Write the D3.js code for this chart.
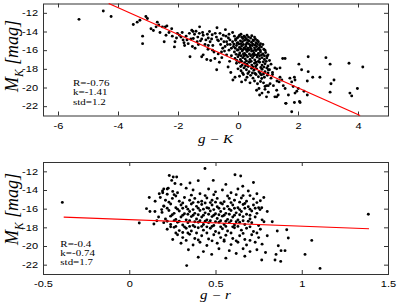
<!DOCTYPE html>
<html>
<head>
<meta charset="utf-8">
<script src="https://cdn.jsdelivr.net/npm/d3@7"></script>
<style>
  html, body { margin: 0; padding: 0; background: #fff; }
  svg { display: block; }
  .tick text { font-family: "Liberation Sans", Arial, sans-serif; font-size: 11px; fill: #000; }
  .tick line { stroke: #333; }
  .stat { font-family: "Liberation Serif", "Times New Roman", serif; font-size: 11px; fill: #000; }
  .lab { font-family: "Liberation Serif", "Times New Roman", serif; font-style: italic; fill: #000; }
</style>
</head>
<body>
<div id="chart"></div>
<script>
// g-K vs M_K
let gKPoints = [
  [-5.30,-12.7],[-4.49,-11.8],[-4.23,-12.4],[-3.49,-13.25],[-3.36,-13.0],[-3.27,-12.8],[-3.07,-12.4],[-3.02,-12.6],
  [-3.18,-14.5],[-3.18,-15.3],[-2.90,-13.7],[-2.82,-13.9],[-2.73,-13.5],[-2.69,-13.0],[-2.64,-13.3],[-2.60,-14.1],
  [-2.52,-13.5],[-2.42,-13.5],[-2.37,-13.4],[-2.46,-15.1],[-2.40,-14.4],[-2.30,-14.1],[-2.21,-13.7],[-2.19,-14.5],
  [-2.12,-15.65],[-2.10,-15.1],[-2.05,-14.7],[-2.02,-14.2],[-1.95,-14.4],[-1.90,-14.6],[-1.86,-14.1],[-1.83,-14.9],
  [-1.80,-15.2],[-1.78,-15.5],[-1.73,-14.5],[-1.70,-14.9],[-1.66,-15.3],[-1.60,-16.7],[-1.62,-14.2],[-1.57,-14.8],
  [-1.52,-15.6],[-1.50,-14.0],
  [-1.54,-13.86],[-1.40,-13.97],[-1.29,-14.2],[-1.49,-14.75],[-1.36,-15.1],[-1.43,-15.8],[-1.21,-14.8],[-1.16,-14.4],
  [-1.07,-14.9],[-0.99,-14.7],[-0.93,-15.1],[-0.88,-14.8],[-1.10,-15.4],[-0.99,-15.5],[-0.84,-15.5],[-1.16,-16.5],
  [-1.21,-16.7],[-1.04,-17.0],[-0.91,-17.1],[-0.77,-16.9],[-0.80,-16.2],[-0.71,-18.1],[-0.66,-16.4],[-0.58,-15.4],
  [-0.51,-15.8],[-0.43,-15.6],[-0.38,-15.1],[-0.32,-14.7],[-0.27,-14.9],[-0.49,-14.4],[-0.18,-14.1],[-0.38,-16.5],
  [-0.54,-16.8],[-0.62,-17.3],[-1.32,-15.4],[-1.25,-15.0],[-0.72,-14.6],[-0.65,-15.0],[-0.60,-14.2],[-0.45,-16.1],
  [-0.30,-16.0],[-0.35,-15.4],[-0.28,-17.2],[-0.33,-17.8],[-0.24,-18.4],[-0.22,-16.6],[-0.17,-19.2],[-0.10,-18.9],
  [-1.45,-14.3],[-1.34,-14.6],[-1.18,-14.1],[-1.02,-14.3],[-0.95,-14.0],[-0.86,-14.35],[-0.76,-14.2],[-0.68,-14.9],
  [-0.56,-14.8],[-0.47,-15.1],[-0.40,-14.5],[-0.26,-15.4],[-0.22,-15.8],[-0.30,-14.3],[-0.42,-13.8],[-0.70,-13.6],
  [-1.28,-13.5],[-1.00,-15.9],[-0.85,-16.0],[-0.55,-16.2],
  [-0.12,-14.5],[-0.02,-14.7],[0.05,-14.4],[0.12,-14.6],[0.20,-14.5],[0.28,-14.8],[0.35,-14.6],[0.42,-14.7],
  [0.50,-14.9],[0.58,-14.8],[0.10,-14.3],[0.30,-14.4],
  [-0.08,-14.8],[0.02,-14.55],[0.16,-14.75],[0.24,-14.65],[0.33,-14.95],[0.46,-14.45],[0.55,-14.6],[0.64,-14.95],
  [-0.18,-15.1],[-0.08,-14.95],[0.00,-15.2],[0.08,-15.0],[0.15,-15.1],[0.22,-14.95],[0.30,-15.2],[0.37,-15.0],
  [0.45,-15.15],[0.52,-15.0],[0.60,-15.2],[0.68,-15.1],[0.75,-15.3],[0.03,-15.35],[0.18,-15.4],[0.40,-15.45],
  [-0.14,-15.35],[-0.03,-15.25],[0.10,-15.3],[0.27,-15.4],[0.35,-15.3],[0.49,-15.35],[0.57,-15.45],[0.65,-15.35],
  [0.72,-15.5],[0.83,-15.4],
  [-0.15,-15.6],[-0.05,-15.5],[0.05,-15.7],[0.12,-15.55],[0.20,-15.75],[0.26,-15.6],[0.33,-15.8],[0.41,-15.65],
  [0.48,-15.5],[0.55,-15.75],[0.62,-15.6],[0.70,-15.8],[0.78,-15.65],[0.86,-15.9],[0.25,-15.9],[0.58,-15.95],
  [-0.09,-15.8],[0.01,-15.95],[0.09,-15.85],[0.16,-15.95],[0.30,-16.0],[0.37,-15.95],[0.44,-15.85],[0.51,-16.05],
  [0.66,-15.9],[0.74,-16.0],[0.90,-16.0],
  [-0.12,-16.2],[-0.02,-16.0],[0.06,-16.3],[0.14,-16.1],[0.22,-16.35],[0.30,-16.15],[0.38,-16.4],[0.45,-16.1],
  [0.53,-16.3],[0.60,-16.05],[0.68,-16.35],[0.75,-16.2],[0.83,-16.4],[0.92,-16.25],[1.00,-16.5],[0.10,-16.6],
  [0.35,-16.0],
  [-0.06,-16.45],[0.03,-16.5],[0.18,-16.4],[0.27,-16.55],[0.42,-16.6],[0.49,-16.45],[0.57,-16.5],[0.64,-16.55],
  [0.72,-16.6],[0.79,-16.5],[0.88,-16.6],[0.97,-16.65],
  [-0.10,-16.9],[0.00,-16.7],[0.08,-17.0],[0.16,-16.8],[0.24,-16.95],[0.32,-16.7],[0.40,-17.0],[0.48,-16.8],
  [0.56,-17.05],[0.64,-16.75],[0.72,-16.95],[0.80,-16.8],[0.88,-17.0],[0.96,-16.85],[1.05,-17.1],[0.20,-16.6],
  [0.52,-16.6],
  [-0.04,-17.1],[0.12,-17.2],[0.28,-17.15],[0.36,-17.25],[0.44,-17.2],[0.60,-17.3],[0.68,-17.2],[0.84,-17.25],
  [0.94,-17.2],
  [-0.05,-17.4],[0.05,-17.3],[0.14,-17.6],[0.22,-17.35],[0.30,-17.5],[0.38,-17.3],[0.46,-17.6],[0.55,-17.4],
  [0.63,-17.55],[0.72,-17.3],[0.80,-17.6],[0.90,-17.45],[1.00,-17.7],[1.10,-17.5],
  [0.09,-17.75],[0.25,-17.7],[0.34,-17.75],[0.50,-17.8],[0.59,-17.75],[0.76,-17.85],[0.86,-17.8],[0.96,-17.9],
  [0.00,-18.0],[0.10,-18.2],[0.20,-17.9],[0.28,-18.1],[0.37,-18.3],[0.45,-17.95],[0.53,-18.15],[0.62,-18.0],
  [0.70,-18.3],[0.80,-18.05],[0.90,-18.3],[1.05,-18.1],[1.15,-18.4],
  [0.15,-18.45],[0.33,-18.5],[0.48,-18.45],[0.57,-18.5],[0.74,-18.5],[0.85,-18.55],[1.00,-18.45],
  [0.05,-18.8],[0.18,-18.6],[0.30,-18.9],[0.42,-18.7],[0.50,-19.0],[0.60,-18.6],[0.68,-18.85],[0.78,-18.65],
  [0.88,-18.9],[0.98,-18.7],[1.10,-19.0],
  [0.12,-19.4],[0.25,-19.2],[0.40,-19.5],[0.55,-19.3],[0.65,-19.6],[0.75,-19.35],[0.85,-19.5],[0.95,-19.8],
  [0.70,-20.1],[0.62,-20.3],[0.80,-20.6],[0.90,-20.2],[0.95,-21.0],[0.72,-20.8],[1.01,-19.8],
  [0.79,-19.04],[0.90,-19.9],[1.01,-20.5],[1.07,-19.6],[1.18,-19.8],[1.23,-21.0],[1.29,-20.3],[1.34,-20.8],
  [1.37,-19.4],[1.46,-19.2],[1.51,-19.8],[1.57,-20.1],[1.68,-20.8],[1.73,-19.0],[1.79,-19.4],[1.84,-19.9],
  [1.90,-20.6],[1.96,-20.4],[1.88,-18.9],[1.23,-17.9],[1.40,-17.9],[1.49,-16.9],[1.01,-18.1],[1.29,-18.0],
  [1.40,-18.9],[1.29,-21.0],[1.60,-21.7],[1.79,-22.6],[1.90,-19.2],[2.01,-20.1],[2.05,-21.5],[1.57,-16.9],
  [2.03,-17.5],[2.34,-16.7],[2.34,-18.3],[2.49,-18.9],[2.31,-19.3],[2.31,-20.8],[2.73,-18.9],[2.93,-16.8],
  [3.07,-17.5],[3.20,-19.2],[3.10,-19.6],[3.07,-20.5],[3.70,-17.4],[4.16,-17.8],[3.98,-20.1],[3.73,-20.6],
  [3.79,-20.9],[2.12,-18.1],[2.20,-20.4],[2.07,-21.6],[1.88,-21.6],[1.59,-21.7],[1.15,-18.6],[1.30,-19.3]
];
let gKFit = [[-4.31,-11],[4.07,-23]];
let gKStats = ["R=-0.76", "k=-1.41", "std=1.2"];
let gKXTicks = [-6,-4,-2,0,2,4];

// g-r vs M_K
let grPoints = [
  [-0.388,-15.33],[0.058,-17.54],[0.116,-14.8],[0.143,-17.65],[0.149,-16.3],[0.174,-14.4],[0.188,-16.1],[0.193,-14.1],
  [0.20,-13.9],[0.201,-15.75],[0.226,-13.8],[0.22,-14.45],[0.15,-15.2],[0.12,-16.3],[0.16,-17.3],[0.10,-16.0],
  [0.232,-12.44],[0.255,-12.6],[0.275,-12.6],[0.439,-11.7],[0.246,-12.97],[0.265,-13.3],[0.352,-13.25],[0.613,-12.36],
  [0.646,-12.5],[0.487,-12.97],[0.30,-13.4],[0.56,-13.4],[0.658,-13.6],[0.40,-13.0],[0.72,-13.2],
  [0.194,-14.3],[0.22,-13.9],[0.252,-14.15],[0.28,-14.3],[0.33,-13.8],[0.37,-14.0],[0.41,-14.4],[0.46,-13.9],
  [0.50,-14.2],[0.54,-14.0],[0.59,-14.3],[0.63,-13.9],[0.69,-14.1],[0.74,-14.4],[0.26,-14.5],[0.44,-14.6],[0.66,-14.6],
  [0.27,-14.65],[0.36,-14.55],[0.49,-14.5],[0.57,-14.65],[0.62,-14.5],[0.70,-14.6],
  [0.18,-14.8],[0.21,-15.1],[0.25,-14.9],[0.29,-15.2],[0.32,-14.8],[0.35,-15.1],[0.38,-14.9],[0.42,-15.2],
  [0.45,-14.85],[0.48,-15.1],[0.51,-14.9],[0.55,-15.25],[0.58,-14.9],[0.61,-15.1],[0.65,-14.85],[0.68,-15.2],
  [0.72,-14.95],[0.76,-15.15],[0.78,-14.8],
  [0.23,-15.3],[0.31,-15.4],[0.37,-15.35],[0.40,-15.3],[0.44,-15.4],[0.47,-15.35],[0.50,-15.3],[0.53,-15.4],
  [0.59,-15.35],[0.64,-15.3],[0.67,-15.45],[0.74,-15.35],
  [0.20,-15.7],[0.24,-15.5],[0.27,-15.9],[0.30,-15.6],[0.33,-15.8],[0.36,-15.5],[0.39,-15.75],[0.42,-15.55],
  [0.45,-15.9],[0.48,-15.6],[0.51,-15.8],[0.54,-15.5],[0.57,-15.75],[0.60,-15.6],[0.63,-15.9],[0.66,-15.55],
  [0.69,-15.8],[0.72,-15.6],[0.75,-15.9],[0.768,-15.9],[0.34,-16.05],[0.55,-16.0],
  [0.22,-15.95],[0.28,-16.05],[0.31,-15.95],[0.37,-16.1],[0.40,-15.95],[0.43,-16.05],[0.46,-15.95],[0.49,-16.1],
  [0.52,-15.95],[0.58,-16.05],[0.61,-15.95],[0.64,-16.1],[0.67,-15.95],[0.70,-16.05],[0.73,-15.95],
  [0.19,-16.4],[0.23,-16.2],[0.26,-16.5],[0.29,-16.25],[0.32,-16.55],[0.35,-16.3],[0.38,-16.5],[0.41,-16.2],
  [0.44,-16.45],[0.47,-16.25],[0.50,-16.55],[0.53,-16.3],[0.56,-16.5],[0.59,-16.2],[0.62,-16.45],[0.65,-16.3],
  [0.68,-16.6],[0.71,-16.25],[0.74,-16.5],[0.80,-16.3],[0.758,-16.1],
  [0.25,-16.65],[0.31,-16.7],[0.34,-16.6],[0.37,-16.7],[0.40,-16.65],[0.43,-16.7],[0.46,-16.6],[0.49,-16.7],
  [0.52,-16.65],[0.55,-16.7],[0.58,-16.6],[0.61,-16.7],[0.64,-16.65],[0.70,-16.7],
  [0.17,-16.9],[0.21,-17.1],[0.24,-16.8],[0.27,-17.15],[0.30,-16.9],[0.33,-17.2],[0.36,-16.85],[0.39,-17.1],
  [0.42,-16.9],[0.45,-17.2],[0.48,-16.85],[0.51,-17.05],[0.54,-16.8],[0.57,-17.15],[0.60,-16.9],[0.63,-17.2],
  [0.66,-16.85],[0.70,-17.1],[0.73,-16.9],[0.77,-17.2],
  [0.22,-17.35],[0.26,-17.3],[0.29,-17.35],[0.35,-17.3],[0.38,-17.4],[0.41,-17.3],[0.44,-17.35],[0.47,-17.3],
  [0.50,-17.4],[0.53,-17.3],[0.56,-17.35],[0.59,-17.3],[0.62,-17.4],[0.66,-17.3],[0.69,-17.35],
  [0.20,-17.5],[0.24,-17.7],[0.28,-17.45],[0.31,-17.75],[0.34,-17.5],[0.37,-17.8],[0.40,-17.45],[0.43,-17.7],
  [0.46,-17.5],[0.49,-17.8],[0.52,-17.45],[0.55,-17.7],[0.58,-17.5],[0.61,-17.75],[0.64,-17.45],[0.67,-17.7],
  [0.71,-17.5],[0.781,-17.4],[0.829,-17.4],[0.75,-17.8],
  [0.24,-17.95],[0.27,-17.9],[0.32,-17.95],[0.35,-17.9],[0.38,-17.95],[0.42,-17.9],[0.45,-17.95],[0.48,-17.9],
  [0.53,-17.95],[0.56,-17.9],[0.60,-17.95],[0.63,-17.9],[0.70,-17.95],
  [0.22,-18.2],[0.26,-18.0],[0.29,-18.35],[0.33,-18.1],[0.36,-18.4],[0.40,-18.05],[0.43,-18.3],[0.47,-18.1],
  [0.50,-18.45],[0.54,-18.15],[0.57,-18.4],[0.61,-18.05],[0.65,-18.3],[0.68,-18.1],[0.72,-18.45],[0.76,-18.2],
  [0.858,-18.4],[0.913,-18.26],
  [0.27,-18.6],[0.31,-18.55],[0.34,-18.6],[0.39,-18.6],[0.45,-18.6],[0.52,-18.6],[0.59,-18.6],[0.66,-18.65],[0.74,-18.6],
  [0.252,-19.3],[0.28,-18.8],[0.31,-19.1],[0.35,-18.75],[0.38,-19.2],[0.42,-18.9],[0.46,-19.25],[0.49,-18.8],
  [0.53,-19.1],[0.56,-18.85],[0.60,-19.2],[0.64,-18.9],[0.67,-19.3],[0.71,-18.8],[0.75,-19.1],[0.922,-19.15],[0.80,-18.9],
  [0.33,-19.4],[0.40,-19.35],[0.48,-19.45],[0.55,-19.35],[0.62,-19.45],[0.70,-19.4],
  [0.30,-19.7],[0.37,-19.9],[0.41,-19.6],[0.45,-19.95],[0.51,-19.7],[0.55,-19.5],[0.59,-19.85],[0.63,-19.6],
  [0.68,-19.9],[0.73,-19.6],[0.864,-19.97],[0.77,-19.8],[1.058,-19.4],
  [0.343,-20.4],[0.43,-20.6],[0.478,-20.9],[0.52,-20.3],[0.58,-20.5],[0.62,-20.8],[0.66,-20.3],[0.70,-20.6],
  [0.74,-20.4],[0.79,-20.7],[0.903,-20.5],[0.851,-20.9],[1.019,-20.9],[0.88,-20.5],
  [0.333,-22.1],[0.878,-21.65],[0.845,-21.5],[0.768,-21.5],[1.106,-22.4],[0.40,-21.2],[0.56,-21.3],[0.67,-21.1],
  [1.386,-16.6]
];
let grFit = [[-0.38,-16.9],[1.39,-18.15]];
let grStats = ["R=-0.4", "k=-0.74", "std=1.7"];
let grXTicks = [-0.5,0,0.5,1,1.5];

let yTicks = [-22,-20,-18,-16,-14,-12];
let yDomain = [-23, -11];

// the reference is a bit squashed vertically, so text gets squashed too
let squash = 0.82;
let tickSquash = 0.8;
let labelSquash = 0.78;

let width = 399, height = 305;
let svg = d3.select('#chart').append('svg')
    .attr('width', width)
    .attr('height', height);

function drawPanel(opt) {
    let x = d3.scaleLinear().domain(opt.xDomain).range([43, 388]);
    let y = d3.scaleLinear().domain(yDomain).range([opt.bottom, opt.top]);
    let g = svg.append('g');
    let fmt = d => String(d);

    g.append('g')
        .attr('transform', 'translate(0,' + opt.bottom + ')')
        .call(d3.axisBottom(x).tickValues(opt.xTicks).tickFormat(fmt).tickSizeInner(-4).tickSizeOuter(0).tickPadding(opt.xPad))
        .call(a => a.select('.domain').remove())
        .call(a => a.selectAll('text').attr('transform', 'scale(1,' + tickSquash + ')'));
    g.append('g')
        .attr('transform', 'translate(0,' + opt.top + ')')
        .call(d3.axisTop(x).tickValues(opt.xTicks).tickFormat('').tickSizeInner(-4).tickSizeOuter(0))
        .call(a => a.select('.domain').remove());
    g.append('g')
        .attr('transform', 'translate(43,0)')
        .call(d3.axisLeft(y).tickValues(yTicks).tickFormat(fmt).tickSizeInner(-4).tickSizeOuter(0).tickPadding(5))
        .call(a => a.select('.domain').remove())
        .call(a => a.selectAll('text').attr('transform', 'scale(1,' + tickSquash + ')'));
    g.append('g')
        .attr('transform', 'translate(388,0)')
        .call(d3.axisRight(y).tickValues(yTicks).tickFormat('').tickSizeInner(-4).tickSizeOuter(0))
        .call(a => a.select('.domain').remove());

    g.append('rect')
        .attr('x', 43.5).attr('y', opt.top + 0.5)
        .attr('width', 345).attr('height', opt.bottom - opt.top)
        .attr('fill', 'none').attr('stroke', '#333').attr('stroke-width', 1);

    g.selectAll('circle.pt')
        .data(opt.points)
        .enter().append('circle')
        .attr('class', 'pt')
        .attr('cx', d => x(d[0]))
        .attr('cy', d => y(d[1]))
        .attr('r', 1.45)
        .attr('fill', '#000');

    let line = d3.line().x(d => x(d[0])).y(d => y(d[1]));
    g.append('path')
        .datum(opt.fit)
        .attr('d', line)
        .attr('fill', 'none')
        .attr('stroke', '#ff0000')
        .attr('stroke-width', 1.2);

    let st = g.append('text')
        .attr('class', 'stat')
        .attr('transform', 'translate(' + opt.statX + ',' + opt.statY + ') scale(1,' + squash + ')');
    st.selectAll('tspan')
        .data(opt.stats)
        .enter().append('tspan')
        .attr('x', 0)
        .attr('dy', (d, i) => i === 0 ? 0 : 9.2 / squash)
        .text(d => d);

    g.append('text')
        .attr('class', 'lab')
        .attr('transform', 'translate(215.5,' + opt.xLabelY + ') scale(1,' + labelSquash + ')')
        .attr('text-anchor', 'middle')
        .style('font-size', '15px')
        .text(opt.xLabel);

    let yl = g.append('text')
        .attr('class', 'lab')
        .attr('transform', 'translate(18.3,' + opt.yLabelMid + ') rotate(-90) scale(0.92,1)')
        .attr('text-anchor', 'middle')
        .style('font-size', '19.5px');
    yl.append('tspan').text('M');
    yl.append('tspan').attr('dy', 4.5).style('font-size', '12.5px').text('K');
    yl.append('tspan').attr('dy', -4.5).text(' [mag]');
}

drawPanel({
    points: gKPoints, fit: gKFit, stats: gKStats, xTicks: gKXTicks,
    xDomain: [-6.5, 5], top: 3.5, bottom: 115.5, xPad: 9,
    statX: 73, statY: 86.3, xLabel: 'g \u2212 K', xLabelY: 143, yLabelMid: 56
});

drawPanel({
    points: grPoints, fit: grFit, stats: grStats, xTicks: grXTicks,
    xDomain: [-0.5, 1.5], top: 162, bottom: 274, xPad: 8,
    statX: 60.3, statY: 246.7, xLabel: 'g \u2212 r', xLabelY: 299, yLabelMid: 209
});
</script>
</body>
</html>
